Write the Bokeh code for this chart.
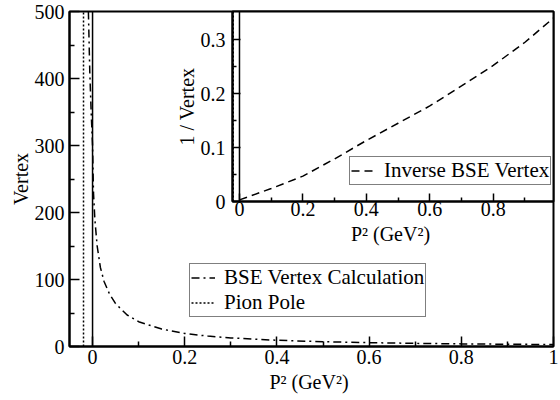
from bokeh.plotting import figure
from bokeh.models import Range1d, FixedTicker, Span, Legend, LegendItem
from bokeh.embed import file_html
from bokeh.resources import INLINE

# ---------------- data ----------------
# main panel: BSE vertex vs P^2
p2_main = [-0.009, -0.006, -0.003, 0.0, 0.002, 0.005, 0.01, 0.017, 0.025, 0.037,
           0.05, 0.075, 0.1, 0.15, 0.2, 0.25, 0.3, 0.4, 0.5, 0.6, 0.7, 0.8, 0.9, 1.0]
vertex_main = [500, 410, 350, 300, 230, 190, 150, 118, 97, 78,
               64, 47, 37, 26, 19.5, 15.5, 12.8, 9.3, 7.1, 5.7, 4.7, 3.9, 3.4, 2.9]
# inset: inverse vertex
p2_inset = [0.0, 0.1, 0.2, 0.3, 0.4, 0.5, 0.6, 0.7, 0.8, 0.9, 0.99]
inv_vertex = [0.003, 0.024, 0.047, 0.079, 0.113, 0.145, 0.177, 0.214, 0.252, 0.295, 0.34]
# pion pole position (P^2 = -m_pi^2)
pion_pole = -0.0196

# ticks
main_x_ticks = [0, 0.2, 0.4, 0.6, 0.8, 1.0]
main_x_labels = ["0", "0.2", "0.4", "0.6", "0.8", "1"]
main_x_minor = [0.1, 0.3, 0.5, 0.7, 0.9]
main_y_ticks = [0, 100, 200, 300, 400, 500]
main_y_labels = ["0", "100", "200", "300", "400", "500"]
main_y_minor = [50, 150, 250, 350, 450]
inset_x_ticks = [0, 0.2, 0.4, 0.6, 0.8]
inset_x_labels = ["0", "0.2", "0.4", "0.6", "0.8"]
inset_x_minor = [0.1, 0.3, 0.5, 0.7, 0.9]
inset_y_ticks = [0, 0.1, 0.2, 0.3]
inset_y_labels = ["0", "0.1", "0.2", "0.3"]
inset_y_minor = [0.05, 0.15, 0.25]

FONT = "Liberation Serif"


def style_axis(ax, ticks, labels, minor, label_standoff, title_standoff):
    ax.ticker = FixedTicker(ticks=ticks, minor_ticks=minor)
    ax.major_label_overrides = dict(zip(ticks, labels))
    ax.axis_line_color = "black"
    ax.axis_line_width = 2
    ax.major_tick_in = 10
    ax.major_tick_out = 0
    ax.minor_tick_in = 5
    ax.minor_tick_out = 0
    ax.major_tick_line_width = 1.5
    ax.minor_tick_line_width = 1.5
    ax.major_tick_line_color = "black"
    ax.minor_tick_line_color = "black"
    ax.major_label_text_font = FONT
    ax.major_label_text_font_size = "20px"
    ax.major_label_text_color = "black"
    ax.major_label_standoff = label_standoff
    ax.axis_label_text_font = FONT
    ax.axis_label_text_font_size = "20px"
    ax.axis_label_text_font_style = "normal"
    ax.axis_label_text_color = "black"
    ax.axis_label_standoff = title_standoff


def style_legend(leg):
    leg.label_text_font = FONT
    leg.label_text_font_size = "21px"
    leg.label_text_color = "black"
    leg.glyph_width = 24
    leg.glyph_height = 19
    leg.label_height = 19
    leg.label_standoff = 9
    leg.padding = 1
    leg.spacing = 0
    leg.margin = 0
    leg.border_line_color = "black"
    leg.border_line_width = 1
    leg.background_fill_color = "white"
    leg.background_fill_alpha = 1


# ---------------- main figure ----------------
p = figure(width=560, height=400,
           x_range=Range1d(-0.05, 1.0), y_range=Range1d(0, 500),
           output_backend="svg", toolbar_location=None,
           min_border_left=69, min_border_right=7,
           min_border_top=11, min_border_bottom=54)
p.xgrid.visible = False
p.ygrid.visible = False
p.outline_line_color = "black"
p.outline_line_width = 2
p.background_fill_color = "white"
p.border_fill_color = "white"

style_axis(p.xaxis[0], main_x_ticks, main_x_labels, main_x_minor, 3, 4)
style_axis(p.yaxis[0], main_y_ticks, main_y_labels, main_y_minor, 5, 0)
p.xaxis.axis_label = "P\u00b2  (GeV\u00b2)"
p.yaxis.axis_label = "Vertex"

p.add_layout(Span(location=0, dimension="height", line_color="black", line_width=1.5))
pole_main = p.segment(x0=[pion_pole], y0=[0], x1=[pion_pole], y1=[500],
                      line_color="black", line_width=1.5, line_dash="2 2")
curve_main = p.line(p2_main, vertex_main, line_color="black", line_width=1.5,
                    line_dash="8 4 2 4")

leg_main = Legend(items=[LegendItem(label="BSE Vertex Calculation", renderers=[curve_main]),
                         LegendItem(label="Pion Pole", renderers=[pole_main])],
                  location=(120, 29))
style_legend(leg_main)
p.add_layout(leg_main)
p.styles = {"position": "absolute", "left": "0px", "top": "0px"}

# ---------------- inset figure ----------------
q = figure(width=390, height=252,
           x_range=Range1d(-0.022, 0.99), y_range=Range1d(0, 0.352),
           output_backend="svg", toolbar_location=None,
           min_border_left=62, min_border_right=7,
           min_border_top=11, min_border_bottom=51)
q.xgrid.visible = False
q.ygrid.visible = False
q.outline_line_color = "black"
q.outline_line_width = 2
q.background_fill_color = "white"
q.border_fill_alpha = 0

style_axis(q.xaxis[0], inset_x_ticks, inset_x_labels, inset_x_minor, 0, 4)
style_axis(q.yaxis[0], inset_y_ticks, inset_y_labels, inset_y_minor, 7, 0)
q.xaxis[0].major_tick_in = 8
q.yaxis[0].major_tick_in = 8
q.xaxis[0].minor_tick_in = 4
q.yaxis[0].minor_tick_in = 4
q.xaxis.axis_label = "P\u00b2  (GeV\u00b2)"
q.yaxis.axis_label = "1 / Vertex"

q.add_layout(Span(location=0, dimension="height", line_color="black", line_width=1.5))
q.segment(x0=[pion_pole], y0=[0], x1=[pion_pole], y1=[0.352],
          line_color="black", line_width=1.5, line_dash="2 2")
curve_inset = q.line(p2_inset, inv_vertex, line_color="black", line_width=1.5,
                     line_dash="8 5")

leg_inset = Legend(items=[LegendItem(label="Inverse BSE Vertex", renderers=[curve_inset])],
                   location=(117, 16))
style_legend(leg_inset)
q.add_layout(leg_inset)
q.styles = {"position": "absolute", "left": "170px", "top": "0px", "z-index": "2"}

open("out.html", "w").write(file_html([p, q], INLINE))
